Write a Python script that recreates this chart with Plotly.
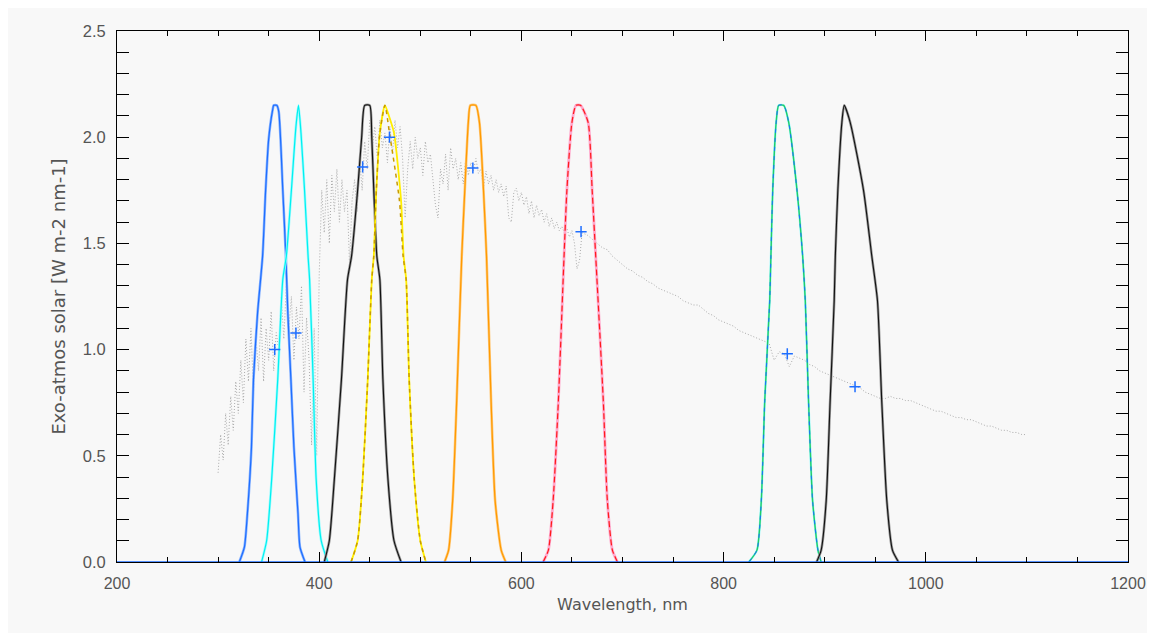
import plotly.graph_objects as go

# ---------------- data ----------------
# Exo-atmospheric solar spectrum (W m-2 nm-1)
solar_wl_a = [300.0 + 2.5 * i for i in range(145)]  # 300 ... 660 nm, 2.5 nm step
solar_val_a = [
    0.42, 0.60, 0.48, 0.70, 0.55, 0.78, 0.62, 0.85, 0.70, 0.95,
    0.75, 1.05, 0.85, 1.10, 0.80, 1.05, 0.90, 1.15, 0.85, 1.10,
    0.95, 1.18, 0.90, 1.08, 1.00, 1.25, 1.05, 1.30, 1.10, 1.25,
    0.95, 1.20, 1.05, 1.30, 0.80, 1.15, 0.95, 0.55, 1.10, 0.50,
    1.35, 1.75, 1.55, 1.80, 1.50, 1.82, 1.65, 1.85, 1.60, 1.80,
    1.65, 1.75, 1.40, 1.70, 1.80, 1.65, 1.90, 1.75, 1.98, 1.85,
    2.08, 1.95, 2.05, 1.90, 2.08, 1.95, 2.02, 1.88, 2.05, 1.92,
    2.08, 1.95, 2.05, 1.90, 1.62, 1.85, 1.98, 1.85, 2.00, 1.90,
    1.95, 1.82, 1.98, 1.88, 1.92, 1.80, 1.68, 1.62, 1.85, 1.78,
    1.92, 1.75, 1.95, 1.85, 1.90, 1.80, 1.88, 1.78, 1.90, 1.82,
    1.88, 1.84, 1.90, 1.83, 1.85, 1.76, 1.84, 1.78, 1.82, 1.75,
    1.80, 1.74, 1.78, 1.72, 1.77, 1.62, 1.60, 1.74, 1.76, 1.70,
    1.74, 1.68, 1.72, 1.64, 1.70, 1.62, 1.68, 1.63, 1.66, 1.60,
    1.64, 1.58, 1.62, 1.57, 1.60, 1.56, 1.58, 1.55, 1.57, 1.53,
    1.56, 1.50, 1.38, 1.42, 1.55,
]
solar_wl_b = [665.0 + 5 * i for i in range(88)]  # 665 ... 1100 nm, 5 nm step
solar_val_b = [
    1.54, 1.52, 1.50, 1.48, 1.47, 1.44, 1.42, 1.40, 1.38, 1.37,
    1.35, 1.34, 1.32, 1.31, 1.29, 1.28, 1.27, 1.26, 1.25, 1.23,
    1.22, 1.21, 1.21, 1.19, 1.17, 1.16, 1.14, 1.13, 1.12, 1.11,
    1.09, 1.08, 1.07, 1.06, 1.05, 1.04, 1.03, 0.95, 0.99, 0.98,
    0.92, 0.97, 0.96, 0.95, 0.93, 0.92, 0.90, 0.89, 0.88, 0.87,
    0.86, 0.85, 0.84, 0.83, 0.82, 0.80, 0.79, 0.78, 0.77, 0.77,
    0.78, 0.77, 0.77, 0.76, 0.76, 0.75, 0.74, 0.73, 0.72, 0.71,
    0.71, 0.70, 0.69, 0.68, 0.68, 0.67, 0.67, 0.66, 0.65, 0.64,
    0.64, 0.63, 0.62, 0.62, 0.61, 0.61, 0.60, 0.60,
]

# Band-averaged solar irradiance (crosses)
band_wl = [356, 377, 443, 469.5, 552, 659, 863, 930]
band_val = [1.00, 1.078, 1.86, 2.00, 1.855, 1.555, 0.98, 0.825]

# Filter responses (scaled to peak 2.15)
f1_wl = [321, 326, 329, 333, 335, 339, 344, 347, 350, 354, 355, 358, 360, 364, 367, 369, 372, 375, 379, 381, 386]
f1_r = [0, 0.07, 0.23, 0.54, 0.86, 1.17, 1.44, 1.75, 1.99, 2.13, 2.15, 2.15, 2.12, 1.75, 1.44, 1.17, 0.86, 0.54, 0.23, 0.07, 0]

f2_wl = [343, 348, 353, 359, 364, 367.5, 372.5, 377, 379.5, 382, 385.5, 389, 390.5, 394, 397, 402, 408.5]
f2_r = [0, 0.10, 0.39, 0.86, 1.33, 1.44, 1.75, 2.05, 2.15, 2.02, 1.75, 1.44, 1.33, 0.86, 0.39, 0.10, 0]

f3_wl = [405, 410, 415, 422, 428, 432, 438, 442, 445, 450, 452, 454, 457, 460, 463, 468, 474, 481]
f3_r = [0, 0.10, 0.39, 0.86, 1.33, 1.44, 1.75, 2.00, 2.15, 2.15, 2.00, 1.75, 1.44, 1.33, 0.86, 0.39, 0.10, 0]

f4y_wl = [431.5, 438, 443, 448, 452, 454, 456.5, 460, 465, 469, 474, 481, 483.5, 486, 489, 494, 500, 505.5]
f4y_r = [0, 0.10, 0.39, 0.86, 1.33, 1.44, 1.75, 2.02, 2.15, 2.10, 2.02, 1.70, 1.44, 1.33, 0.86, 0.39, 0.10, 0]
f4g_wl = [431.5, 438, 443, 448, 452, 454, 456.5, 460, 465, 469.5, 479.4, 483, 486, 489, 494, 500, 505.5]
f4g_r = [0, 0.10, 0.39, 0.86, 1.33, 1.44, 1.75, 2.02, 2.15, 2.02, 1.70, 1.44, 1.33, 0.86, 0.39, 0.10, 0]

f5_wl = [524, 528, 532, 536, 541, 544, 547.5, 549.5, 555, 558.5, 562.5, 565.5, 570, 574, 580, 584.5]
f5_r = [0, 0.056, 0.29, 0.76, 1.44, 1.75, 2.07, 2.15, 2.15, 2.07, 1.75, 1.44, 0.76, 0.29, 0.056, 0]

f6_wl = [621.5, 626.7, 631.4, 636.6, 642.2, 645, 650, 654, 658.5, 666, 670, 673.5, 681, 685, 690, 695]
f6_r = [0, 0.056, 0.29, 0.76, 1.44, 1.75, 2.07, 2.15, 2.15, 2.07, 1.75, 1.44, 0.76, 0.29, 0.056, 0]

f7_wl = [825, 833, 837.3, 840.7, 845.6, 846.8, 848.6, 852, 854.5, 859.5, 864.4, 872.6, 878.2, 880.8, 884, 888, 893.3, 896.5]
f7_r = [0, 0.056, 0.29, 0.76, 1.23, 1.44, 1.75, 2.07, 2.15, 2.15, 2.07, 1.75, 1.44, 1.23, 0.76, 0.29, 0.056, 0]

f8_wl = [892, 896.5, 901.5, 905.4, 909.4, 910.5, 913, 917, 919.3, 925.2, 938.4, 946.6, 952.2, 956.4, 961.4, 967, 973]
f8_r = [0, 0.056, 0.29, 0.76, 1.23, 1.44, 1.75, 2.07, 2.15, 2.07, 1.75, 1.44, 1.23, 0.76, 0.29, 0.056, 0]

baseline_wl = [200, 1200]
baseline_r = [0, 0]

x_ticks = [200, 400, 600, 800, 1000, 1200]
y_ticks = [0.0, 0.5, 1.0, 1.5, 2.0, 2.5]

# ---------------- figure ----------------
fig = go.Figure()

fig.add_trace(go.Scatter(x=solar_wl_a + solar_wl_b, y=solar_val_a + solar_val_b, mode="lines",
                         line=dict(color="#ababab", width=1, dash="1px,2px")))

def band(xs, ys, color, width=1.2, dash="solid", shape="spline"):
    fig.add_trace(go.Scatter(x=xs, y=ys, mode="lines",
                             line=dict(color=color, width=width, dash=dash,
                                       shape=shape, smoothing=0.6)))

# filter 1 : blue pair
band(f1_wl, f1_r, "#8ab4ff", 2.6)
band(f1_wl, f1_r, "#1e6eff", 1.2)
# filter 2 : cyan pair
band(f2_wl, f2_r, "#9ffcff", 2.6)
band(f2_wl, f2_r, "#00f0f0", 1.2)
# filter 3 : black / grey
band(f3_wl, f3_r, "#9a9a9a", 2.6)
band(f3_wl, f3_r, "#111111", 1.1)
# filter 4 : yellow + gold dashed
band(f4y_wl, f4y_r, "#ffee00", 1.8)
band(f4g_wl, f4g_r, "#c89b00", 1.5, "4px,4px")
# filter 5 : orange pair
band(f5_wl, f5_r, "#ffc878", 2.6)
band(f5_wl, f5_r, "#ff9a00", 1.2)
# filter 6 : red + pink
band(f6_wl, f6_r, "#ffa8cc", 2.8)
band(f6_wl, f6_r, "#ff1a1a", 1.2, "6px,3px")
# filter 7 : cyan / green / blue
band(f7_wl, f7_r, "#8ffcff", 2.2)
band(f7_wl, f7_r, "#22cc66", 1.4)
band(f7_wl, f7_r, "#1e6eff", 1.0, "4px,5px")
# filter 8 : black / grey
band(f8_wl, f8_r, "#9a9a9a", 2.6)
band(f8_wl, f8_r, "#111111", 1.1)
# blue zero line across the full range
band(baseline_wl, baseline_r, "#1e6eff", 1.5, shape="linear")

fig.add_trace(go.Scatter(x=band_wl, y=band_val, mode="markers",
                         marker=dict(symbol="cross-thin", size=8, color="#1e6eff",
                                     line=dict(color="#1e6eff", width=1.5))))

font_col = "#555555"
fig.update_layout(
    width=1139, height=625,
    margin=dict(l=109, r=19, t=23, b=71),
    paper_bgcolor="#f8f8f8", plot_bgcolor="#f8f8f8",
    showlegend=False,
    font=dict(family="DejaVu Sans, Liberation Sans, sans-serif", size=16, color=font_col),
)
fig.update_xaxes(
    range=[200, 1200], tickvals=x_ticks, ticktext=[str(v) for v in x_ticks],
    showgrid=False, zeroline=False, automargin=False,
    showline=True, linecolor="black", linewidth=1, mirror="ticks",
    ticks="inside", ticklen=10, tickcolor="black", tickwidth=1, ticklabelstandoff=7,
    ticklabeloverflow="allow",
    minor=dict(dtick=50, ticks="inside", ticklen=5, tickcolor="black", tickwidth=1, showgrid=False),
    title=dict(text="Wavelength, nm", font=dict(size=16, color=font_col), standoff=7),
    tickfont=dict(family="Liberation Sans, Arial, sans-serif", size=16, color=font_col),
)
fig.update_yaxes(
    range=[0, 2.5], tickvals=y_ticks, ticktext=["%.1f" % v for v in y_ticks],
    showgrid=False, zeroline=False, automargin=False,
    showline=True, linecolor="black", linewidth=1, mirror="ticks",
    ticks="inside", ticklen=12, tickcolor="black", tickwidth=1, ticklabelstandoff=7,
    minor=dict(dtick=0.1, ticks="inside", ticklen=12, tickcolor="black", tickwidth=1, showgrid=False),
    title=dict(text="Exo-atmos solar [W m-2 nm-1]", font=dict(size=18, color=font_col), standoff=12),
    tickfont=dict(family="Liberation Sans, Arial, sans-serif", size=16.5, color=font_col),
)

fig.write_html("out.html")
